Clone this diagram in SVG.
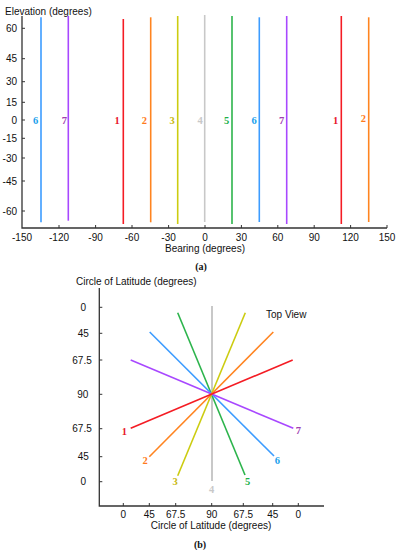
<svg xmlns="http://www.w3.org/2000/svg" width="398" height="550" viewBox="0 0 398 550">
<style>
.ax{stroke:#333;stroke-width:1.3;fill:none}
.tk{stroke:#333;stroke-width:1;fill:none}
.t{font-family:"Liberation Sans",Arial,sans-serif;font-size:10px;fill:#111}
.tr{text-anchor:end}
.tm{text-anchor:middle}
.n{font-family:"Liberation Serif","Times New Roman",serif;font-size:10.5px;font-weight:bold;text-anchor:middle}
.cap{font-family:"Liberation Serif","Times New Roman",serif;font-size:10px;font-weight:bold;text-anchor:middle;fill:#111}
.l{stroke-width:1.6;fill:none}
.c1{stroke:#f41c24}.f1{fill:#e8182c}
.c2{stroke:#ff8420}.f2{fill:#ff7a20}
.c3{stroke:#cccc10}.f3{fill:#c8b810}
.c4{stroke:#c8c8c8}.f4{fill:#c8c8c8}
.c5{stroke:#2cb44c}.f5{fill:#20b048}
.c6{stroke:#3c9cff}.f6{fill:#18a0ec}
.c7{stroke:#a848ff}.f7{fill:#a040b0}
</style>
<rect width="398" height="550" fill="#fff"/>
<!-- Plot (a) -->
<g id="plot-a">
<text class="t" x="5" y="14.5">Elevation (degrees)</text>
<path class="ax" d="M22,16V228H387"/>
<g class="tk">
<path d="M22,28.3h3M22,58.7h3M22,81.7h3M22,102.3h3M22,120h3M22,138.3h3M22,158h3M22,181h3M22,211h3"/>
<path d="M59,228v-3M95.6,228v-3M132,228v-3M168.6,228v-3M205,228v-3M241.4,228v-3M277.8,228v-3M314.2,228v-3M350.6,228v-3M387,228v-3"/>
</g>
<g class="t tr">
<text x="17" y="32">60</text>
<text x="17" y="62.3">45</text>
<text x="17" y="85.3">30</text>
<text x="17" y="106">15</text>
<text x="17" y="123.6">0</text>
<text x="17" y="142">-15</text>
<text x="17" y="161.6">-30</text>
<text x="17" y="184.6">-45</text>
<text x="17" y="214.6">-60</text>
</g>
<g class="t tm">
<text x="22" y="241">-150</text>
<text x="59" y="241">-120</text>
<text x="95.6" y="241">-90</text>
<text x="132" y="241">-60</text>
<text x="168.6" y="241">-30</text>
<text x="205" y="241">0</text>
<text x="241.4" y="241">30</text>
<text x="277.8" y="241">60</text>
<text x="314.2" y="241">90</text>
<text x="350.6" y="241">120</text>
<text x="387" y="241">150</text>
<text x="205" y="252">Bearing (degrees)</text>
</g>
<text class="cap" x="201" y="269.5">(a)</text>
</g>
<g id="series-a">
<path class="l c6" d="M41,17.3V222.3"/>
<path class="l c7" d="M68.3,16V220.7"/>
<path class="l c1" d="M123.3,19V224"/>
<path class="l c2" d="M150.7,17.3V222.3"/>
<path class="l c3" d="M177.7,16V224"/>
<path class="l c4" d="M204.7,15V222"/>
<path class="l c5" d="M232,16V224"/>
<path class="l c6" d="M259.3,17.3V222"/>
<path class="l c7" d="M286.7,16V224"/>
<path class="l c1" d="M341.3,16V224"/>
<path class="l c2" d="M368.7,17.3V222"/>
</g>
<g id="labels-a">
<text class="n f6" x="35.7" y="123.5">6</text>
<text class="n f7" x="64.3" y="123.5">7</text>
<text class="n f1" x="117" y="123.5">1</text>
<text class="n f2" x="144.3" y="123.5">2</text>
<text class="n f3" x="172" y="123.5">3</text>
<text class="n f4" x="200" y="123.5">4</text>
<text class="n f5" x="226.7" y="123.5">5</text>
<text class="n f6" x="254" y="123.5">6</text>
<text class="n f7" x="281.7" y="123.5">7</text>
<text class="n f1" x="335.7" y="123.5">1</text>
<text class="n f2" x="363.3" y="121.5">2</text>
</g>
<!-- Plot (b) -->
<g id="plot-b">
<text class="t" x="76" y="285.3">Circle of Latitude (degrees)</text>
<path class="ax" d="M99.3,288V506H324"/>
<g class="tk">
<path d="M99.3,307.3h3M99.3,333.3h3M99.3,360h3M99.3,394.3h3M99.3,428.7h3M99.3,456.7h3M99.3,481.7h3"/>
<path d="M123.3,506v-3M149.3,506v-3M175.7,506v-3M211.7,506v-3M243.3,506v-3M272.7,506v-3M298.3,506v-3"/>
</g>
<g class="t tm">
<text x="83.3" y="311">0</text>
<text x="83.3" y="337">45</text>
<text x="82" y="363.6">67.5</text>
<text x="82.7" y="398">90</text>
<text x="82" y="432.3">67.5</text>
<text x="83.3" y="460.3">45</text>
<text x="83.3" y="485.3">0</text>
<text x="123.3" y="518">0</text>
<text x="149.3" y="518">45</text>
<text x="175.7" y="518">67.5</text>
<text x="211.7" y="518">90</text>
<text x="243.3" y="518">67.5</text>
<text x="272.7" y="518">45</text>
<text x="298.3" y="518">0</text>
<text x="211" y="529.3">Circle of Latitude (degrees)</text>
</g>
<text class="t" x="266" y="317.6">Top View</text>
<text class="cap" x="200" y="547.5">(b)</text>
</g>
<g id="series-b">
<path class="l c4" style="stroke-width:2" d="M212,306V481"/>
<path class="l c5" d="M177.7,312.7L245,475"/>
<path class="l c6" d="M149.7,332L274,456"/>
<path class="l c7" d="M130.7,360L293.3,428.3"/>
<path class="l c3" d="M245.3,312.7L177.7,475.7"/>
<path class="l c2" d="M273.3,332L149.3,456.7"/>
<path class="l c1" d="M292.7,360L130.7,428.3"/>
</g>
<g id="labels-b">
<text class="n f1" x="124.3" y="435.2">1</text>
<text class="n f2" x="145" y="463.5">2</text>
<text class="n f3" x="175" y="485.2">3</text>
<text class="n f4" x="211.7" y="492.5">4</text>
<text class="n f5" x="247.7" y="484.5">5</text>
<text class="n f6" x="277.3" y="463.5">6</text>
<text class="n f7" x="298.3" y="434.2">7</text>
</g>
</svg>
